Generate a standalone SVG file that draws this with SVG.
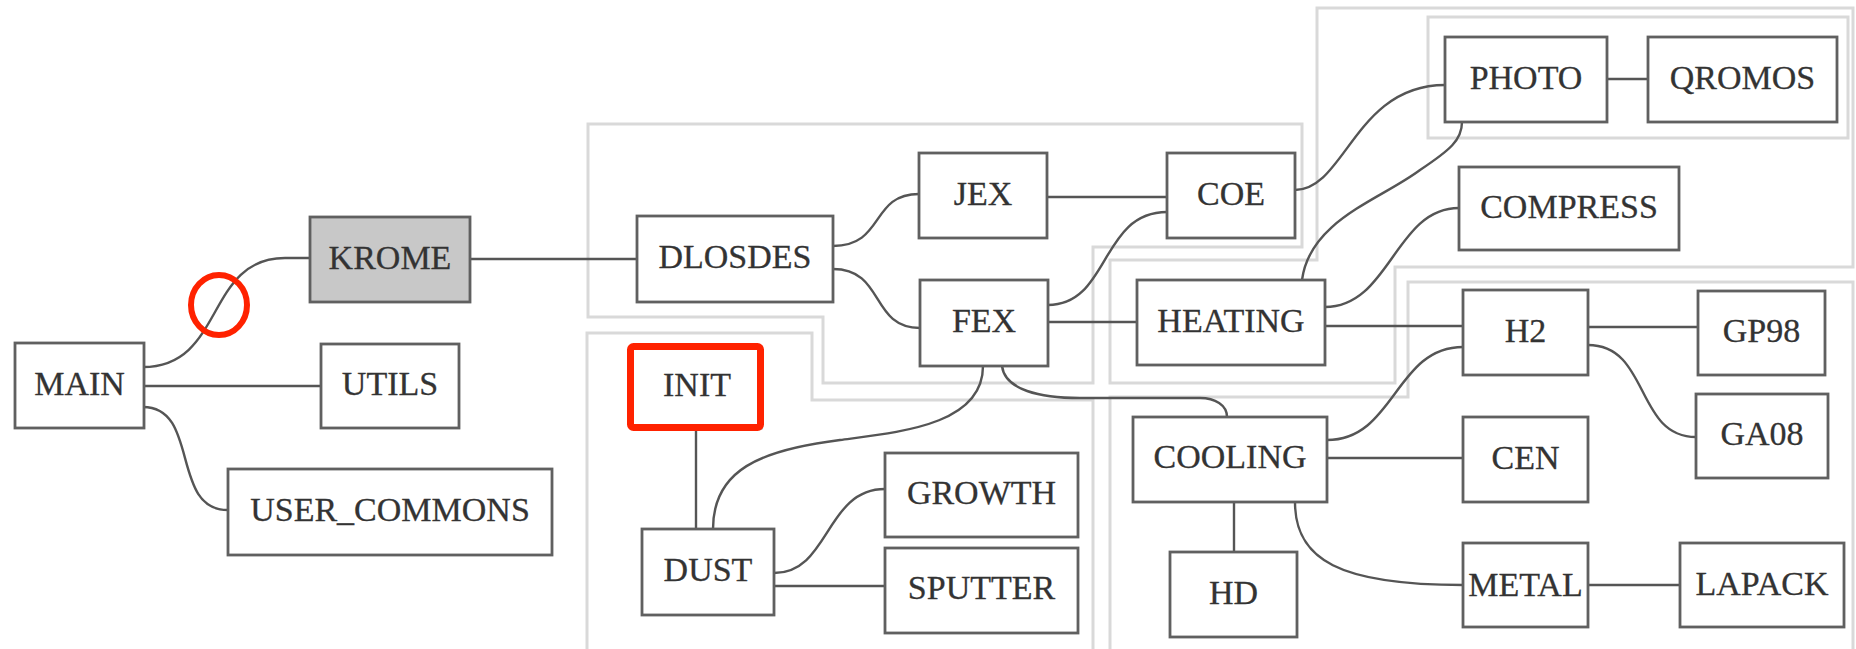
<svg xmlns="http://www.w3.org/2000/svg" width="1856" height="649" viewBox="0 0 1856 649">
<style>
.cl{fill:none;stroke:#d9d9d9;stroke-width:3}
.nd rect{fill:#ffffff;stroke:#606060;stroke-width:2.8}
.nd text{font-family:"Liberation Serif",serif;font-size:34px;fill:#333333;text-anchor:middle;stroke:#333333;stroke-width:0.3}
.ed path{fill:none;stroke:#555555;stroke-width:2.4}
.hl{fill:none;stroke:#ff2200;stroke-width:7}
</style>
<rect width="1856" height="649" fill="#ffffff"/>
<g id="clusters">
<path class="cl" d="M588,124 H1302 V247 H1093 V383 H823 V317 H588 Z"/>
<path class="cl" d="M587,333 H812 V400 H1093 V660 H587 Z"/>
<path class="cl" d="M1317,8 H1853 V267 H1395 V383 H1110 V260 H1317 Z"/>
<path class="cl" d="M1408,282 H1853 V660 H1110 V397 H1408 Z"/>
<path class="cl" d="M1428,17 H1848 V138 H1428 Z"/>
</g>
<g id="connectors" class="ed">
<path d="M143,367 C225,367 205,258 285,258 L310,258"/>
<path d="M143,386 H321"/>
<path d="M143,407 C200,407 170,510 228,510"/>
<path d="M470,259 H637"/>
<path d="M833,246 C885,246 870,194 919,194"/>
<path d="M833,269 C885,269 870,328 920,328"/>
<path d="M1047,197 H1167"/>
<path d="M1048,305 C1110,305 1100,212 1167,212"/>
<path d="M1048,322 H1137"/>
<path d="M983,366 C983,425 900,432 840,440 C760,450 713,470 713,529"/>
<path d="M1002,366 C1005,390 1040,398 1080,398 L1200,398 C1215,398 1227,405 1227,417"/>
<path d="M1295,190 C1345,190 1355,85 1445,85"/>
<path d="M1302,280 C1310,220 1380,200 1420,170 C1450,150 1462,140 1462,122"/>
<path d="M1325,307 C1390,307 1395,208 1459,208"/>
<path d="M1325,326 H1463"/>
<path d="M1607,79 H1648"/>
<path d="M1588,327 H1698"/>
<path d="M1588,345 C1650,345 1635,437 1696,437"/>
<path d="M1327,440 C1395,440 1395,347 1463,347"/>
<path d="M1327,458 H1463"/>
<path d="M1234,502 V552"/>
<path d="M1295,502 C1295,560 1340,585 1463,585"/>
<path d="M1588,585 H1680"/>
<path d="M696,431 V529"/>
<path d="M774,573 C830,573 825,489 885,489"/>
<path d="M774,586 H885"/>
</g>
<g id="n_main" class="nd"><rect x="15" y="343" width="129" height="85"/><text x="79.5" y="395">MAIN</text></g>
<g id="n_krome" class="nd"><rect x="310" y="217" width="160" height="85" style="fill:#c8c8c8"/><text x="390" y="269">KROME</text></g>
<g id="n_utils" class="nd"><rect x="321" y="344" width="138" height="84"/><text x="390" y="395">UTILS</text></g>
<g id="n_user_commons" class="nd"><rect x="228" y="469" width="324" height="86"/><text x="390" y="521">USER_COMMONS</text></g>
<g id="n_dlosdes" class="nd"><rect x="637" y="216" width="196" height="86"/><text x="735" y="268">DLOSDES</text></g>
<g id="n_jex" class="nd"><rect x="919" y="153" width="128" height="85"/><text x="983" y="205">JEX</text></g>
<g id="n_fex" class="nd"><rect x="920" y="280" width="128" height="86"/><text x="984" y="332">FEX</text></g>
<g id="n_coe" class="nd"><rect x="1167" y="153" width="128" height="85"/><text x="1231" y="205">COE</text></g>
<g id="n_init" class="nd"><rect x="631" y="347" width="130" height="81"/><text x="697" y="396">INIT</text></g>
<g id="n_dust" class="nd"><rect x="642" y="529" width="132" height="86"/><text x="708" y="581">DUST</text></g>
<g id="n_growth" class="nd"><rect x="885" y="453" width="193" height="84"/><text x="981.5" y="504">GROWTH</text></g>
<g id="n_sputter" class="nd"><rect x="885" y="548" width="193" height="85"/><text x="981.5" y="599">SPUTTER</text></g>
<g id="n_heating" class="nd"><rect x="1137" y="280" width="188" height="85"/><text x="1231" y="332">HEATING</text></g>
<g id="n_cooling" class="nd"><rect x="1133" y="417" width="194" height="85"/><text x="1230" y="468">COOLING</text></g>
<g id="n_hd" class="nd"><rect x="1170" y="552" width="127" height="85"/><text x="1233.5" y="604">HD</text></g>
<g id="n_photo" class="nd"><rect x="1445" y="37" width="162" height="85"/><text x="1526" y="89">PHOTO</text></g>
<g id="n_qromos" class="nd"><rect x="1648" y="37" width="189" height="85"/><text x="1742.5" y="89">QROMOS</text></g>
<g id="n_compress" class="nd"><rect x="1459" y="167" width="220" height="83"/><text x="1569" y="218">COMPRESS</text></g>
<g id="n_h2" class="nd"><rect x="1463" y="290" width="125" height="85"/><text x="1525.5" y="342">H2</text></g>
<g id="n_gp98" class="nd"><rect x="1698" y="291" width="127" height="84"/><text x="1761.5" y="342">GP98</text></g>
<g id="n_ga08" class="nd"><rect x="1696" y="394" width="132" height="84"/><text x="1762" y="445">GA08</text></g>
<g id="n_cen" class="nd"><rect x="1463" y="417" width="125" height="85"/><text x="1525.5" y="469">CEN</text></g>
<g id="n_metal" class="nd"><rect x="1463" y="543" width="125" height="84"/><text x="1525.5" y="596">METAL</text></g>
<g id="n_lapack" class="nd"><rect x="1680" y="543" width="164" height="84"/><text x="1762" y="595">LAPACK</text></g>
<g id="highlights">
<rect class="hl" x="630.5" y="346.5" width="130" height="81" rx="3"/>
<ellipse class="hl" cx="219" cy="305" rx="28" ry="30" style="stroke-width:6"/>
</g>
</svg>
